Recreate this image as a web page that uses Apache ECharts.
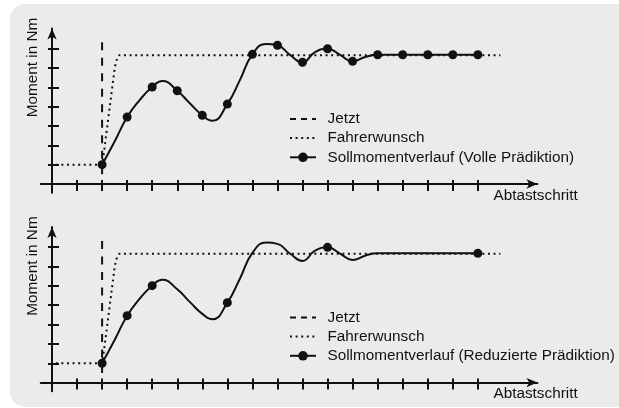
<!DOCTYPE html>
<html>
<head>
<meta charset="utf-8">
<script src="https://cdn.jsdelivr.net/npm/echarts@6/dist/echarts.min.js"></script>
<style>
  html, body { margin: 0; padding: 0; background: #fff; }
  #chart { width: 619px; height: 408px; }
</style>
</head>
<body>
<div id="chart"></div>
<script>
// Torque set-point trajectory (continuous response, read at steps and turning points)
const curveSteps  = [2, 2.5, 3, 3.5, 4, 4.4, 5, 5.5, 6, 6.4, 7, 7.5, 8, 8.55, 9, 9.5, 10, 10.5, 11, 11.5, 12, 12.5, 13, 14, 15, 16, 17];
const curveValues = [1.0, 2.2, 3.46, 4.34, 5.01, 5.32, 4.82, 4.17, 3.55, 3.27, 4.13, 5.37, 6.70, 7.24, 7.17, 6.67, 6.29, 6.82, 6.99, 6.67, 6.34, 6.56, 6.68, 6.68, 6.68, 6.68, 6.68];
// Sampling steps shown as markers: full prediction and reduced prediction
const fullSteps    = [2, 3, 4, 5, 6, 7, 8, 9, 10, 11, 12, 13, 14, 15, 16, 17];
const reducedSteps = [2, 3, 4, 7, 11, 17];

// Driver request (dotted)
const fahrerX = [0.15, 2.0, 2.05, 2.51, 2.6, 2.68, 17.9];
const fahrerY = [1.0, 1.0, 1.4, 6.05, 6.5, 6.66, 6.66];

// "Now" marker (dashed vertical)
const jetztStep = 2;
const jetztRange = [7.32, 0.3];

// Tick positions on both axes (no labels)
const xTicks = [1, 2, 3, 4, 5, 6, 7, 8, 9, 10, 11, 12, 13, 14, 15, 16, 17];
const yTicks = [1, 2, 3, 4, 5, 6, 7];

const sollNames = ['Sollmomentverlauf (Volle Prädiktion)', 'Sollmomentverlauf (Reduzierte Prädiktion)'];
const markerSets = [fullSteps, reducedSteps];

const FONT = '"Liberation Sans", Arial, Helvetica, sans-serif';
const FS = 15.3;
const INK = '#111111';
const PX_X = 25.05, PX_Y = 19.35;
const X_MIN = -0.45, X_MAX = 19.38, Y_MIN = -0.45, Y_MAX = 8.04;
const origins = [[52, 184], [52, 382.6]];
const legendTops = [111.4, 309.9];

const grids = [], xAxes = [], yAxes = [], series = [], legends = [], texts = [];

origins.forEach(function (o, g) {
  grids.push({
    left: o[0] + X_MIN * PX_X,
    top: o[1] - Y_MAX * PX_Y,
    width: (X_MAX - X_MIN) * PX_X,
    height: (Y_MAX - Y_MIN) * PX_Y,
    outerBoundsMode: 'none',
    containLabel: false
  });
  const tickStyle = { color: INK, width: 2 };
  // main x axis (line, arrow, outer ticks) + overlay axis for the inner tick halves
  xAxes.push({
    type: 'value', gridIndex: g, min: X_MIN, max: X_MAX, position: 'bottom',
    axisLine: { show: true, onZero: true, symbol: ['none', 'arrow'], symbolSize: [7, 11], lineStyle: { color: INK, width: 2 } },
    axisTick: { show: true, customValues: xTicks, inside: false, length: 7, lineStyle: tickStyle },
    axisLabel: { show: false }, splitLine: { show: false }
  });
  xAxes.push({
    type: 'value', gridIndex: g, min: X_MIN, max: X_MAX, position: 'bottom',
    axisLine: { show: false, onZero: true },
    axisTick: { show: true, customValues: xTicks, inside: true, length: 4, lineStyle: tickStyle },
    axisLabel: { show: false }, splitLine: { show: false }
  });
  yAxes.push({
    type: 'value', gridIndex: g, min: Y_MIN, max: Y_MAX, position: 'left',
    axisLine: { show: true, onZero: true, symbol: ['none', 'arrow'], symbolSize: [7, 11], lineStyle: { color: INK, width: 2 } },
    axisTick: { show: true, customValues: yTicks, inside: false, length: 4, lineStyle: tickStyle },
    axisLabel: { show: false }, splitLine: { show: false }
  });
  yAxes.push({
    type: 'value', gridIndex: g, min: Y_MIN, max: Y_MAX, position: 'left',
    axisLine: { show: false, onZero: true },
    axisTick: { show: true, customValues: yTicks, inside: true, length: 7, lineStyle: tickStyle },
    axisLabel: { show: false }, splitLine: { show: false }
  });

  const xi = 2 * g, yi = 2 * g;
  series.push({
    name: 'Jetzt', type: 'line', xAxisIndex: xi, yAxisIndex: yi,
    data: jetztRange.map(function (v) { return [jetztStep, v]; }),
    symbol: 'none', silent: true, animation: false,
    lineStyle: { color: INK, width: 2, type: [8, 7.5] }, itemStyle: { color: INK }
  });
  series.push({
    name: 'Fahrerwunsch', type: 'line', xAxisIndex: xi, yAxisIndex: yi,
    data: fahrerX.map(function (x, i) { return [x, fahrerY[i]]; }),
    symbol: 'none', silent: true, animation: false,
    lineStyle: { color: INK, width: 2, type: [2, 3.6], cap: 'butt' }, itemStyle: { color: INK }
  });
  const marks = markerSets[g];
  series.push({
    name: sollNames[g], type: 'line', xAxisIndex: xi, yAxisIndex: yi,
    data: curveSteps.map(function (s, i) {
      const item = { value: [s, curveValues[i]] };
      if (marks.indexOf(s) < 0) item.symbol = 'none';
      return item;
    }),
    smooth: 0.5, symbol: 'circle', symbolSize: 9, showSymbol: true, showAllSymbol: true,
    silent: true, animation: false, z: 3,
    lineStyle: { color: INK, width: 2 }, itemStyle: { color: INK }
  });

  legends.push({
    orient: 'vertical', left: 289, top: legendTops[g], padding: 0,
    itemWidth: 26, itemHeight: 12, itemGap: 4.2,
    selectedMode: false,
    textStyle: { fontFamily: FONT, fontSize: FS, color: INK, padding: [0, 0, 0, 6.5] },
    data: [
      { name: 'Jetzt', itemStyle: { opacity: 0 }, lineStyle: { type: [6, 5] } },
      { name: 'Fahrerwunsch', itemStyle: { opacity: 0 } },
      { name: sollNames[g] }
    ]
  });

  texts.push({
    type: 'text', x: 33, y: o[1] - 116.5, rotation: Math.PI / 2,
    style: { text: 'Moment in Nm', font: FS + 'px ' + FONT, fill: INK, align: 'center', verticalAlign: 'middle' }
  });
  texts.push({
    type: 'text', x: 493.5, y: o[1] + 11.5,
    style: { text: 'Abtastschritt', font: FS + 'px ' + FONT, fill: INK, align: 'left', verticalAlign: 'middle' }
  });
});

const chart = echarts.init(document.getElementById('chart'), null, { renderer: 'canvas' });
chart.setOption({
  animation: false,
  backgroundColor: '#ffffff',
  graphic: [
    { type: 'rect', z: -100, shape: { x: 10, y: 4, width: 620, height: 403, r: [15, 0, 0, 15] }, style: { fill: '#ebebeb' } }
  ].concat(texts),
  grid: grids,
  xAxis: xAxes,
  yAxis: yAxes,
  legend: legends,
  series: series
});
</script>
</body>
</html>
